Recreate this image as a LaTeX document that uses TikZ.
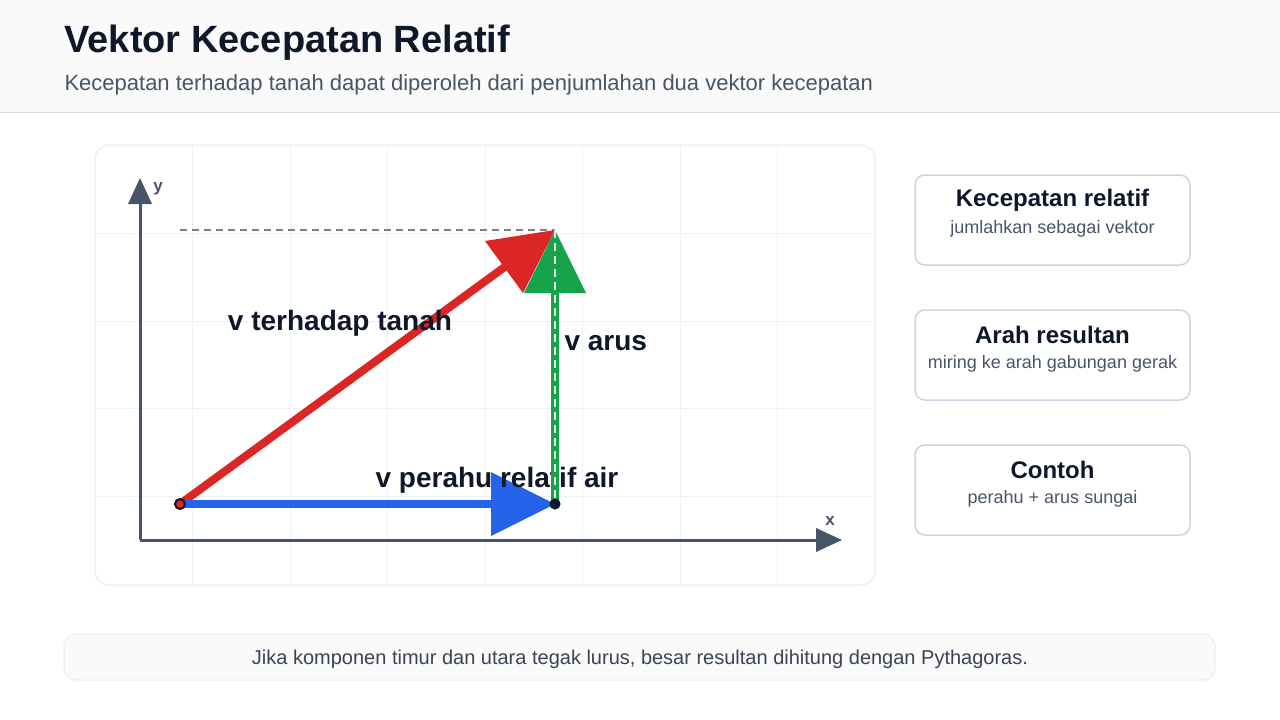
\documentclass[tikz,border=0pt]{standalone}
\usepackage{fontspec}
\setmainfont{Liberation Sans}
\begin{document}
\begin{tikzpicture}[x=1pt,y=-1pt,
  card/.style={draw=cardline,line width=1.5pt,rounded corners=10pt,fill=white},
  lbl/.style={font=\fontsize{28}{32}\selectfont\bfseries,text=ink},
  dot/.style={circle,draw=ink,line width=2pt,inner sep=0pt,minimum size=10pt}]
\definecolor{ink}{HTML}{0F172A}
\definecolor{sub}{HTML}{475569}
\definecolor{cardline}{HTML}{CBD5E1}
\definecolor{axis}{HTML}{475569}
\definecolor{gridc}{HTML}{EEF1F5}
\definecolor{bluev}{HTML}{2563EB}
\definecolor{redv}{HTML}{DC2626}
\definecolor{greenv}{HTML}{16A34A}
\useasboundingbox (0,0) rectangle (1280,720);
\fill[white] (0,0) rectangle (1280,720);
\fill[fill=gray!4] (0,0) rectangle (1280,112);
\draw[gridc!80!gray,line width=1pt] (0,112) -- (1280,112);
\node[anchor=west,font=\fontsize{38}{42}\selectfont\bfseries,text=ink] (title) at (61,43) {Vektor Kecepatan Relatif};
\node[anchor=west,font=\fontsize{22}{26}\selectfont,text=sub] (subt) at (61,85) {Kecepatan terhadap tanah dapat diperoleh dari penjumlahan dua vektor kecepatan};
% plot panel
\draw[gridc,line width=1.5pt,rounded corners=14pt,fill=white] (95,145) rectangle (875,585);
\foreach \x in {192,290,387,485,582,680,777} \draw[gridc,line width=0.8pt] (\x,146) -- (\x,584);
\foreach \y in {233,321,408,496} \draw[gridc,line width=0.8pt] (96,\y) -- (874,\y);
% axes
\coordinate (O) at (140,540);
\coordinate (Y) at (140,178);
\coordinate (X) at (842,540);
\draw[axis,line width=3pt] (O) -- (140,200);
\fill[axis] (Y) -- (128,204) -- (152,204) -- cycle;
\draw[axis,line width=3pt] (O) -- (820,540);
\fill[axis] (X) -- (816,528) -- (816,552) -- cycle;
\node[font=\fontsize{17}{20}\selectfont\bfseries,text=axis] (ylab) at (158,189) {y};
\node[font=\fontsize{17}{20}\selectfont\bfseries,text=axis] (xlab) at (830,521) {x};
% points
\coordinate (A) at (180,504);
\coordinate (B) at (555,504);
\coordinate (C) at (555,230);
\draw[gray,line width=1.5pt,dash pattern=on 7pt off 5pt] (A|-C) -- (C);
% red
\draw[redv,line width=8pt] (A) -- (506,266);
\fill[redv] (C) -- (485,241) -- (523,293) -- cycle;
% blue
\draw[bluev,line width=8pt] (A) -- (495,504);
\fill[bluev] (B) -- (491,472) -- (491,536) -- cycle;
\node[lbl] (lr) at (340,323) {v terhadap tanah};
\node[lbl] (lb) at (497,480) {v perahu relatif air};
% green
\draw[greenv,line width=8pt] (B) -- (555,290);
\fill[greenv] (C) -- (524,293) -- (586,293) -- cycle;
\draw[white!80!gray,line width=1.5pt,dash pattern=on 8pt off 5pt] (C) -- (B);
\node[lbl,anchor=west] (lg) at (561,343) {v arus};
\node[dot,fill=redv] (pa) at (A) {};
\node[dot,fill=ink,minimum size=9pt] (pb) at (B) {};
% cards
\foreach \yy/\t/\s in {175/Kecepatan relatif/jumlahkan sebagai vektor,310/Arah resultan/miring ke arah gabungan gerak,445/Contoh/perahu + arus sungai}{
  \draw[card] (915,\yy) rectangle (1190,\yy+90);
  \node[font=\fontsize{24}{28}\selectfont\bfseries,text=ink] at (1052.5,\yy+25) {\t};
  \node[font=\fontsize{18}{22}\selectfont,text=sub] at (1052.5,\yy+54) {\s};
}
% footer
\draw[gridc,line width=1.5pt,rounded corners=12pt,fill=gray!4] (64,634) rectangle (1215,680);
\node[font=\fontsize{20}{24}\selectfont,text=sub!80!black] (foot) at (640,659) {Jika komponen timur dan utara tegak lurus, besar resultan dihitung dengan Pythagoras.};
\end{tikzpicture}
\end{document}
